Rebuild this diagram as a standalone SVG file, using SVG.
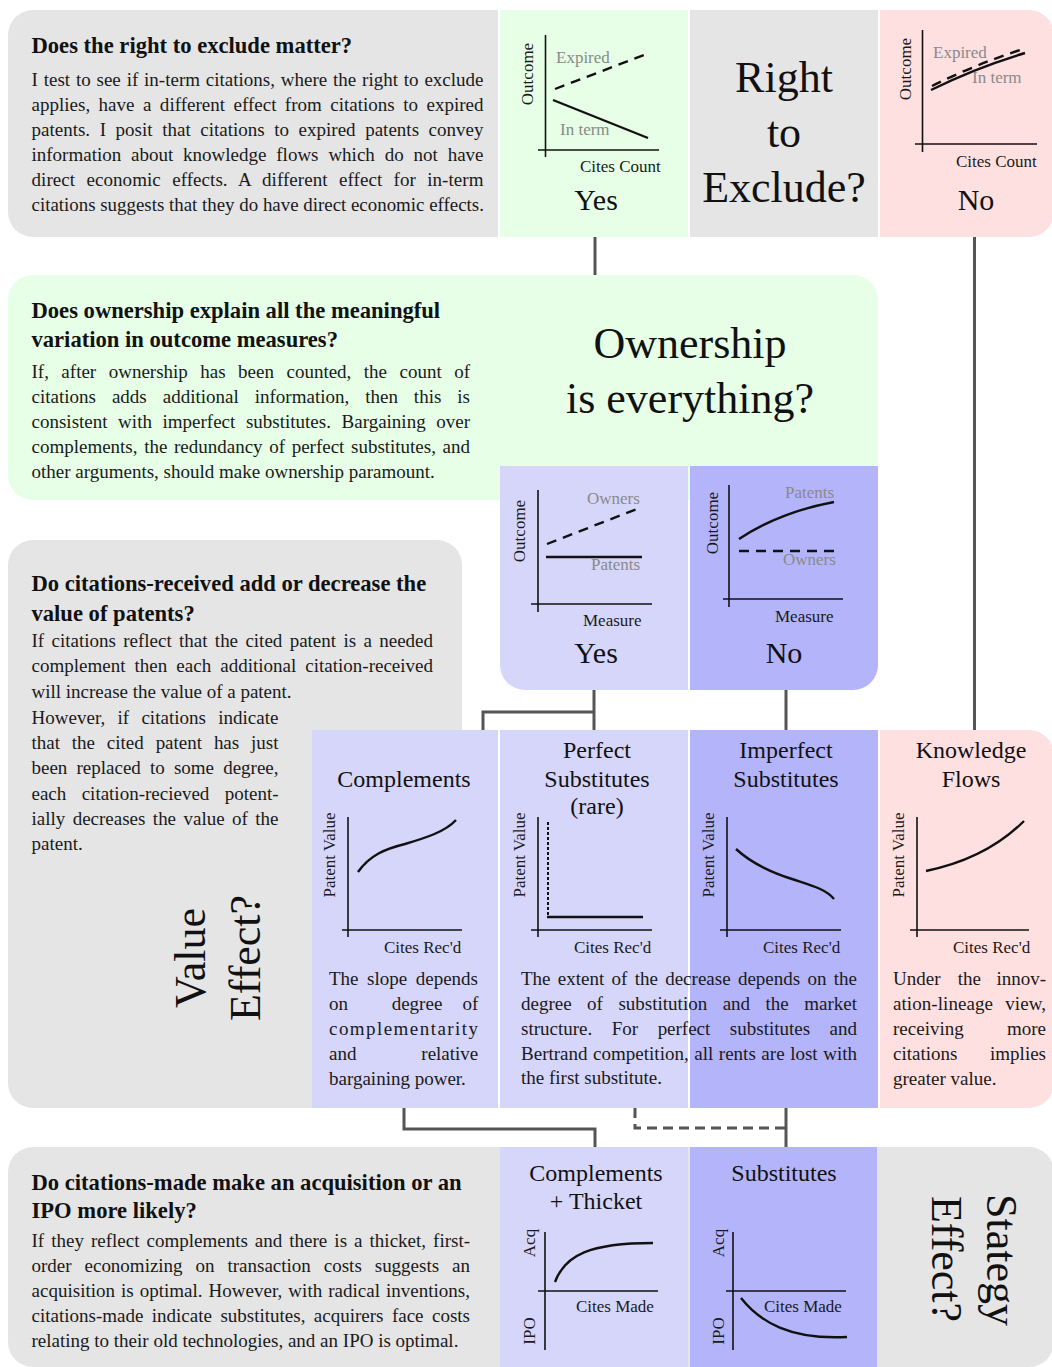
<svg xmlns="http://www.w3.org/2000/svg" width="1052" height="1367" viewBox="0 0 1052 1367">
<style>
.grey{fill:#e5e5e5}.green{fill:#e6ffe6}.pink{fill:#ffe0e0}.lp{fill:#d6d6fb}.dp{fill:#b4b4fb}
text{font-family:"Liberation Serif","Times New Roman",serif;fill:#1a1a1a}
.title{font-weight:bold;font-size:22.6px;fill:#111}
.body{font-size:19px;fill:#222}
.ax{font-size:17px}
.axg{font-size:17px;fill:#8a8a8a}
.big{font-size:44px;fill:#111}
.yn{font-size:30px;fill:#111}
.cell{font-size:24px;fill:#111}
.mid{text-anchor:middle}
.end{text-anchor:end}
.axis{stroke:#111;stroke-width:1.6;fill:none}
.curve{stroke:#111;stroke-width:2.4;fill:none}
.dash{stroke-dasharray:10,7}
.conn{stroke:#555;stroke-width:3;fill:none}
</style>

<!-- backgrounds -->
<path class="grey" d="M33,10 H498 V237 H33 A25,25 0 0 1 8,212 V35 A25,25 0 0 1 33,10 Z"/>
<rect class="green" x="500" y="10" width="188" height="227"/>
<rect class="grey" x="690" y="10" width="188" height="227"/>
<path class="pink" d="M880,10 H1029 A25,25 0 0 1 1054,35 V212 A25,25 0 0 1 1029,237 H880 Z"/>
<rect class="green" x="8" y="275" width="870" height="225" rx="25"/>
<path class="lp" d="M500,466 H688 V690 H525 A25,25 0 0 1 500,665 Z"/>
<path class="dp" d="M690,466 H878 V665 A25,25 0 0 1 853,690 H690 Z"/>
<rect class="grey" x="8" y="540" width="454" height="568" rx="25"/>
<rect class="lp" x="312" y="730" width="186" height="378"/>
<rect class="lp" x="500" y="730" width="188" height="378"/>
<rect class="dp" x="690" y="730" width="188" height="378"/>
<path class="pink" d="M880,730 H1029 A25,25 0 0 1 1054,755 V1083 A25,25 0 0 1 1029,1108 H880 Z"/>
<rect class="grey" x="8" y="1147" width="1046" height="220" rx="25"/>
<rect class="lp" x="500" y="1147" width="188" height="220"/>
<rect class="dp" x="690" y="1147" width="187" height="220"/>

<g id="connectors">
<path class="conn" d="M595,237 V275"/>
<path class="conn" d="M974.5,237 V730"/>
<path class="conn" d="M594,690 V730"/>
<path class="conn" d="M594,712 H483 V730"/>
<path class="conn" d="M786,690 V730"/>
<path class="conn" d="M404,1108 V1129 H595 V1147"/>
<path class="conn" d="M786,1108 V1147"/>
<path class="conn" d="M635,1108 V1128 H786" stroke-dasharray="10,6"/>
</g>

<g id="q1">
<text class="title" x="31.5" y="53">Does the right to exclude matter?</text>
<g class="body">
<text x="31.5" y="86" word-spacing="1.1" textLength="452" lengthAdjust="spacing">I test to see if in-term citations, where the right to exclude</text>
<text x="31.5" y="111" word-spacing="3.7" textLength="452" lengthAdjust="spacing">applies, have a different effect from citations to expired</text>
<text x="31.5" y="136" word-spacing="4.8" textLength="452" lengthAdjust="spacing">patents. I posit that citations to expired patents convey</text>
<text x="31.5" y="161" word-spacing="5.1" textLength="452" lengthAdjust="spacing">information about knowledge flows which do not have</text>
<text x="31.5" y="186" word-spacing="6.5" textLength="452" lengthAdjust="spacing">direct economic effects. A different effect for in-term</text>
<text x="31.5" y="211" font-size="18.9">citations suggests that they do have direct economic effects.</text>
</g>
</g>

<g id="yes1">
<line class="axis" x1="545.5" y1="35" x2="545.5" y2="157"/>
<line class="axis" x1="538" y1="150" x2="659" y2="150"/>
<text class="ax mid" transform="translate(533,74) rotate(-90)">Outcome</text>
<text class="axg" x="556" y="63">Expired</text>
<line class="curve dash" x1="555" y1="89" x2="649" y2="53"/>
<line class="curve" x1="553" y1="100" x2="648" y2="138"/>
<text class="axg" x="560" y="135">In term</text>
<text class="ax" x="580" y="172">Cites Count</text>
<text class="yn mid" x="596" y="210">Yes</text>
</g>

<g id="right-to-exclude">
<text class="big mid" x="784" y="92">Right</text>
<text class="big mid" x="784" y="147">to</text>
<text class="big mid" x="784" y="202">Exclude?</text>
</g>

<g id="no1">
<line class="axis" x1="922.5" y1="30" x2="922.5" y2="152"/>
<line class="axis" x1="915" y1="144" x2="1037" y2="144"/>
<text class="ax mid" transform="translate(911,69) rotate(-90)">Outcome</text>
<text class="axg" x="933" y="58">Expired</text>
<path class="curve dash" d="M932,86 Q976,64 1026,48"/>
<path class="curve" d="M931,90 Q975,68 1025,53"/>
<text class="axg" x="972" y="83">In term</text>
<text class="ax" x="956" y="167">Cites Count</text>
<text class="yn mid" x="976" y="210">No</text>
</g>

<g id="q2">
<text class="title" x="31.5" y="318">Does ownership explain all the meaningful</text>
<text class="title" x="31.5" y="347">variation in outcome measures?</text>
<g class="body">
<text x="31.5" y="378" word-spacing="7.7" textLength="438.5" lengthAdjust="spacing">If, after ownership has been counted, the count of</text>
<text x="31.5" y="403" word-spacing="11.2" textLength="438.5" lengthAdjust="spacing">citations adds additional information, then this is</text>
<text x="31.5" y="428" word-spacing="5.8" textLength="438.5" lengthAdjust="spacing">consistent with imperfect substitutes. Bargaining over</text>
<text x="31.5" y="453" word-spacing="1.9" textLength="438.5" lengthAdjust="spacing">complements, the redundancy of perfect substitutes, and</text>
<text x="31.5" y="478">other arguments, should make ownership paramount.</text>
</g>
<text class="big mid" x="690" y="358" font-size="45">Ownership</text>
<text class="big mid" x="690" y="413" font-size="45">is everything?</text>
</g>

<g id="yes2">
<line class="axis" x1="538" y1="490" x2="538" y2="612"/>
<line class="axis" x1="531" y1="604" x2="652" y2="604"/>
<text class="ax mid" transform="translate(525,531) rotate(-90)">Outcome</text>
<text class="axg" x="587" y="504">Owners</text>
<line class="curve dash" x1="547" y1="544" x2="642" y2="507"/>
<line class="curve" x1="546" y1="557" x2="642" y2="557"/>
<text class="axg" x="591" y="570">Patents</text>
<text class="ax" x="583" y="626">Measure</text>
<text class="yn mid" x="596" y="663">Yes</text>
</g>

<g id="no2">
<line class="axis" x1="729" y1="485" x2="729" y2="607"/>
<line class="axis" x1="723" y1="599" x2="843" y2="599"/>
<text class="ax mid" transform="translate(718,523) rotate(-90)">Outcome</text>
<text class="axg" x="785" y="498">Patents</text>
<path class="curve" d="M739,539 Q780,512 834,502"/>
<line class="curve dash" x1="739" y1="551" x2="835" y2="551"/>
<text class="axg" x="783" y="565">Owners</text>
<text class="ax" x="775" y="622">Measure</text>
<text class="yn mid" x="784" y="663">No</text>
</g>

<g id="q3">
<text class="title" x="31.5" y="591">Do citations-received add or decrease the</text>
<text class="title" x="31.5" y="621">value of patents?</text>
<g class="body">
<text x="31.5" y="647" word-spacing="2.6" textLength="401.5" lengthAdjust="spacing">If citations reflect that the cited patent is a needed</text>
<text x="31.5" y="672" word-spacing="4.3" textLength="401.5" lengthAdjust="spacing">complement then each additional citation-received</text>
<text x="31.5" y="698">will increase the value of a patent.</text>
<text x="31.5" y="724" word-spacing="7.4" textLength="247" lengthAdjust="spacing">However, if citations indicate</text>
<text x="31.5" y="749" word-spacing="7.1" textLength="247" lengthAdjust="spacing">that the cited patent has just</text>
<text x="31.5" y="774" word-spacing="4.4" textLength="247" lengthAdjust="spacing">been replaced to some degree,</text>
<text x="31.5" y="800" word-spacing="10.6" textLength="247" lengthAdjust="spacing">each citation-recieved potent-</text>
<text x="31.5" y="825" word-spacing="2.7" textLength="247" lengthAdjust="spacing">ially decreases the value of the</text>
<text x="31.5" y="850">patent.</text>
</g>
<text class="big mid" font-size="43" transform="translate(205,958) rotate(-90)">Value</text>
<text class="big mid" font-size="43" transform="translate(260,958) rotate(-90)">Effect?</text>
</g>

<g id="complements">
<text class="cell mid" x="404" y="787">Complements</text>
<line class="axis" x1="348" y1="817" x2="348" y2="937"/>
<line class="axis" x1="342" y1="930" x2="462" y2="930"/>
<text class="ax mid" transform="translate(335,855) rotate(-90)">Patent Value</text>
<path class="curve" d="M358,872 C370,855 385,849 405,844 C425,838 445,832 456,820"/>
<text class="ax" x="384" y="953">Cites Rec'd</text>
<g class="body">
<text x="329" y="985" word-spacing="3.8" textLength="149" lengthAdjust="spacing">The slope depends</text>
<text x="329" y="1010">on</text><text x="391.7" y="1010">degree</text><text class="end" x="478.3" y="1010">of</text>
<text x="329" y="1035" textLength="149" lengthAdjust="spacing">complementarity</text>
<text x="329" y="1060">and</text><text class="end" x="478.3" y="1060">relative</text>
<text x="329" y="1085">bargaining power.</text>
</g>
</g>

<g id="perfect-substitutes">
<text class="cell mid" x="597" y="758">Perfect</text>
<text class="cell mid" x="597" y="787">Substitutes</text>
<text class="cell mid" x="597" y="814">(rare)</text>
<line class="axis" x1="538" y1="817" x2="538" y2="937"/>
<line class="axis" x1="531" y1="930" x2="652" y2="930"/>
<text class="ax mid" transform="translate(525,855) rotate(-90)">Patent Value</text>
<line x1="548" y1="822" x2="548" y2="916" stroke="#111" stroke-width="2" stroke-dasharray="3,2"/>
<line class="curve" x1="547" y1="917" x2="643" y2="917"/>
<text class="ax" x="574" y="953">Cites Rec'd</text>
<g class="body">
<text x="521" y="985" word-spacing="2.5" textLength="336" lengthAdjust="spacing">The extent of the decrease depends on the</text>
<text x="521" y="1010" word-spacing="10.7" textLength="336" lengthAdjust="spacing">degree of substitution and the market</text>
<text x="521" y="1035" word-spacing="14.8" textLength="336" lengthAdjust="spacing">structure. For perfect substitutes and</text>
<text x="521" y="1060" word-spacing="0.8" textLength="336" lengthAdjust="spacing">Bertrand competition, all rents are lost with</text>
<text x="521" y="1084">the first substitute.</text>
</g>
</g>

<g id="imperfect-substitutes">
<text class="cell mid" x="786" y="758">Imperfect</text>
<text class="cell mid" x="786" y="787">Substitutes</text>
<line class="axis" x1="727" y1="817" x2="727" y2="937"/>
<line class="axis" x1="720" y1="930" x2="841" y2="930"/>
<text class="ax mid" transform="translate(714,855) rotate(-90)">Patent Value</text>
<path class="curve" d="M736,849 C750,862 770,872 792,879 C810,885 826,889 834,899"/>
<text class="ax" x="763" y="953">Cites Rec'd</text>
</g>

<g id="knowledge-flows">
<text class="cell mid" x="971" y="758">Knowledge</text>
<text class="cell mid" x="971" y="787">Flows</text>
<line class="axis" x1="917" y1="817" x2="917" y2="937"/>
<line class="axis" x1="910" y1="930" x2="1029" y2="930"/>
<text class="ax mid" transform="translate(904,855) rotate(-90)">Patent Value</text>
<path class="curve" d="M926,871 C960,864 995,850 1024,821"/>
<text class="ax" x="953" y="953">Cites Rec'd</text>
<g class="body">
<text x="893" y="985">Under</text><text x="957.7" y="985">the</text><text class="end" x="1046" y="985">innov-</text>
<text x="893" y="1010" word-spacing="7.4" textLength="153" lengthAdjust="spacing">ation-lineage view,</text>
<text x="893" y="1035">receiving</text><text class="end" x="1046" y="1035">more</text>
<text x="893" y="1060">citations</text><text class="end" x="1046" y="1060">implies</text>
<text x="893" y="1085">greater value.</text>
</g>
</g>

<g id="q4">
<text class="title" x="31.5" y="1190">Do citations-made make an acquisition or an</text>
<text class="title" x="31.5" y="1218">IPO more likely?</text>
<g class="body">
<text x="31.5" y="1247" word-spacing="2.3" textLength="438.5" lengthAdjust="spacing">If they reflect complements and there is a thicket, first-</text>
<text x="31.5" y="1272" word-spacing="8.2" textLength="438.5" lengthAdjust="spacing">order economizing on transaction costs suggests an</text>
<text x="31.5" y="1297" word-spacing="1.2" textLength="438.5" lengthAdjust="spacing">acquisition is optimal. However, with radical inventions,</text>
<text x="31.5" y="1322" word-spacing="3.7" textLength="438.5" lengthAdjust="spacing">citations-made indicate substitutes, acquirers face costs</text>
<text x="31.5" y="1347">relating to their old technologies, and an IPO is optimal.</text>
</g>
</g>

<g id="complements-thicket">
<text class="cell mid" x="596" y="1181">Complements</text>
<text class="cell mid" x="596" y="1209">+ Thicket</text>
<line class="axis" x1="545" y1="1232" x2="545" y2="1350"/>
<line class="axis" x1="538" y1="1291" x2="658" y2="1291"/>
<text class="ax mid" transform="translate(535,1243) rotate(-90)">Acq</text>
<text class="ax mid" transform="translate(535,1331) rotate(-90)">IPO</text>
<path class="curve" d="M555,1282 C565,1255 590,1243 653,1243"/>
<text class="ax" x="576" y="1312">Cites Made</text>
</g>

<g id="substitutes">
<text class="cell mid" x="784" y="1181">Substitutes</text>
<line class="axis" x1="733" y1="1232" x2="733" y2="1350"/>
<line class="axis" x1="726" y1="1291" x2="846" y2="1291"/>
<text class="ax mid" transform="translate(724,1243) rotate(-90)">Acq</text>
<text class="ax mid" transform="translate(724,1331) rotate(-90)">IPO</text>
<path class="curve" d="M741,1298 C760,1322 790,1340 847,1337"/>
<text class="ax" x="764" y="1312">Cites Made</text>
</g>

<g id="strategy-effect">
<text class="big mid" transform="translate(987,1260) rotate(90)">Stategy</text>
<text class="big mid" transform="translate(932,1259) rotate(90)">Effect?</text>
</g>
</svg>
